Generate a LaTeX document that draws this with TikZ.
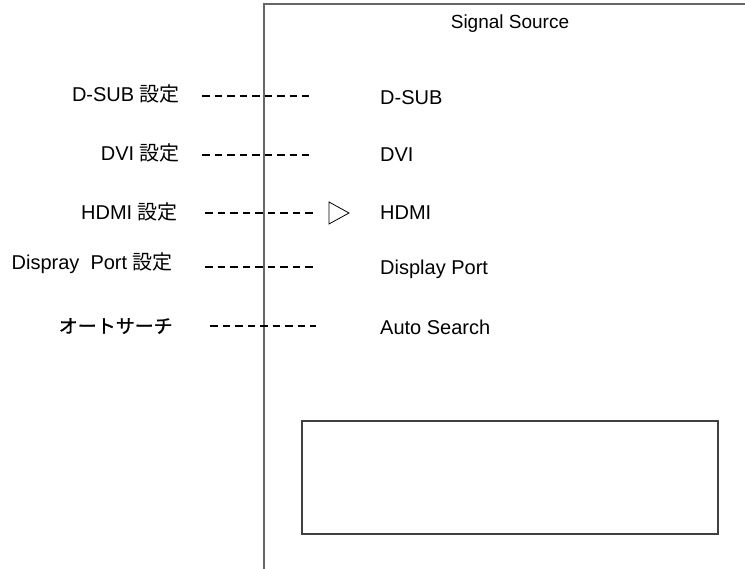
\documentclass[tikz,border=0pt]{standalone}
\usepackage{fontspec}
\setmainfont{Liberation Sans}
\newfontfamily\jp{Noto Sans CJK JP}
\newfontfamily\jpheavy[FakeBold=1]{Noto Sans CJK JP}
\begin{document}
\begin{tikzpicture}[x=1pt,y=-1pt,
  lbl/.style={anchor=east,inner sep=0pt,font=\fontsize{20}{24}\selectfont},
  itm/.style={anchor=west,inner sep=0pt,font=\fontsize{20}{24}\selectfont},
  dline/.style={line width=1.5pt,dash pattern=on 7.5pt off 5pt},
  frame/.style={line width=1.6pt,draw=black!60}]
\useasboundingbox (0,0) rectangle (745,569);
% frame
\coordinate (fa) at (745,4);
\coordinate (fb) at (264,4);
\coordinate (fc) at (264,569);
\draw[frame] (fa) -- (fb) -- (fc);
\node[inner sep=0pt,font=\fontsize{19}{22}\selectfont] (title) at (510,24) {Signal Source};
% left labels
\node[lbl] (l1) at (180,94) {D-SUB {\jp 設定}};
\node[lbl] (l2) at (180,153) {DVI {\jp 設定}};
\node[lbl] (l3) at (178,212) {HDMI {\jp 設定}};
\node[lbl] (l4) at (173,263) {Dispray\ \ Port {\jp 設定}};
\node[anchor=east,inner sep=0pt,font=\jpheavy\fontsize{19}{23}\selectfont] (l5) at (173,326) {オートサーチ};
% dashed lines
\coordinate (d1a) at (202,96);  \coordinate (d1b) at (309,96);
\coordinate (d2a) at (202,155); \coordinate (d2b) at (309,155);
\coordinate (d3a) at (205,213); \coordinate (d3b) at (313,213);
\coordinate (d4a) at (205,267); \coordinate (d4b) at (313,267);
\coordinate (d5a) at (210,326); \coordinate (d5b) at (316,326);
\draw[dline] (d1a) -- (d1b);
\draw[dline] (d2a) -- (d2b);
\draw[dline] (d3a) -- (d3b);
\draw[dline] (d4a) -- (d4b);
\draw[dline] (d5a) -- (d5b);
% right items
\node[itm] (r1) at (380,98) {D-SUB};
\node[itm] (r2) at (380,155) {DVI};
\node[itm] (r3) at (380,213) {HDMI};
\node[itm] (r4) at (380,269) {Display Port};
\node[itm] (r5) at (380,327) {Auto Search};
% cursor triangle
\coordinate (t1) at (329,202);
\coordinate (t2) at (349,213);
\coordinate (t3) at (329,224);
\draw[line width=0.8pt] (t1) -- (t2) -- (t3) -- cycle;
% message box
\draw[line width=1.2pt,draw=black!75] (302,421) rectangle (718,534);
\end{tikzpicture}
\end{document}
